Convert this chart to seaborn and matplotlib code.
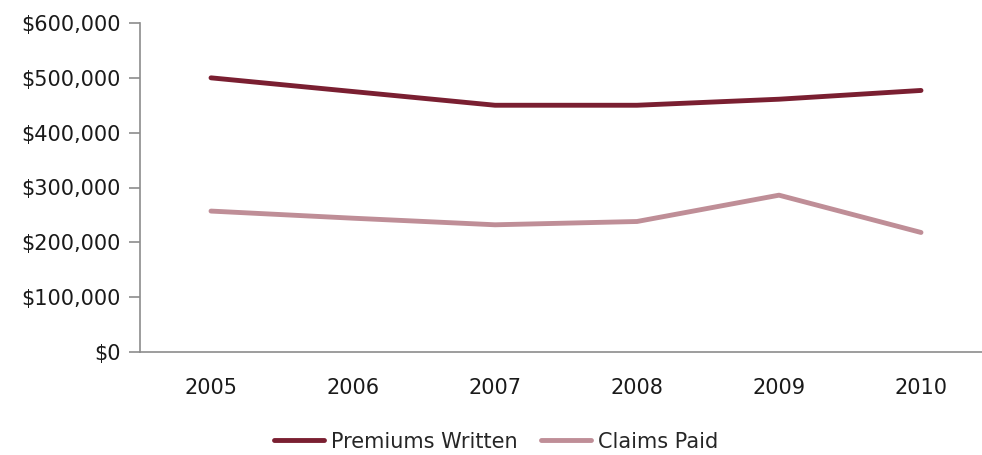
import pandas as pd
import seaborn as sns
import matplotlib.pyplot as plt
from matplotlib.ticker import StrMethodFormatter

# values
years = ['2005', '2006', '2007', '2008', '2009', '2010']
premiums_written = [500000, 475000, 450000, 450000, 461000, 477000]
claims_paid = [257000, 244000, 232000, 238000, 286000, 218000]

df = pd.DataFrame({
    'Year': years * 2,
    'Value': premiums_written + claims_paid,
    'Series': ['Premiums Written'] * len(years) + ['Claims Paid'] * len(years),
})

sns.set_style('white')
plt.rcParams['font.family'] = ['DejaVu Sans']

fig = plt.figure(figsize=(9.82, 4.55), dpi=100)
ax = fig.add_axes([140 / 982, 1 - 352 / 455, 852 / 982, 329 / 455])

sns.lineplot(data=df, x='Year', y='Value', hue='Series', ax=ax,
             palette={'Premiums Written': '#7A1F31', 'Claims Paid': '#BF8E97'},
             linewidth=3.5, solid_capstyle='round', sort=False)

ax.set_xlim(-0.5, 5.5)
ax.set_ylim(0, 600000)
ax.set_yticks(range(0, 600001, 100000))
ax.yaxis.set_major_formatter(StrMethodFormatter('${x:,.0f}'))
ax.set_xlabel('')
ax.set_ylabel('')

for side in ['top', 'right']:
    ax.spines[side].set_visible(False)
for side in ['left', 'bottom']:
    ax.spines[side].set_color('#8c8c8c')
    ax.spines[side].set_linewidth(1.2)

ax.tick_params(axis='y', left=True, length=8, width=1.2, color='#8c8c8c',
               labelsize=15, labelcolor='#1a1a1a', pad=6)
ax.tick_params(axis='x', bottom=False, labelsize=15, labelcolor='#1a1a1a', pad=15)

leg = ax.legend(loc='upper center', bbox_to_anchor=(0.418, -0.185),
                ncol=2, frameon=False, fontsize=15, handlelength=2.4,
                handletextpad=0.35, columnspacing=1.1)
for line in leg.get_lines():
    line.set_linewidth(3.5)

fig.savefig('out.png', dpi=100)
